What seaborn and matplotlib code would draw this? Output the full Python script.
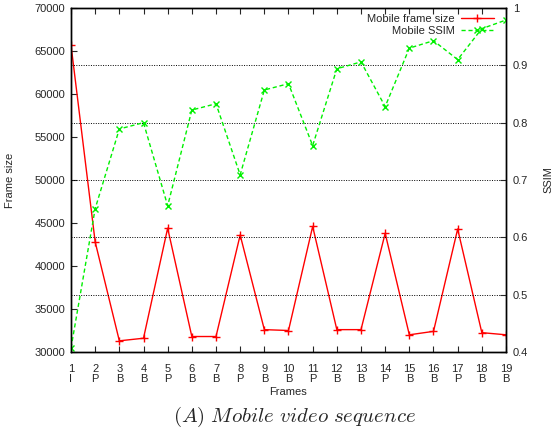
import matplotlib
matplotlib.use("Agg")
import matplotlib.pyplot as plt
import seaborn as sns
import pandas as pd
import numpy as np

frames = list(range(1, 20))
frame_types = ["I", "P", "B", "B", "P", "B", "B", "P", "B", "B",
               "P", "B", "B", "P", "B", "B", "P", "B", "B"]
frame_size = [65700, 42800, 31300, 31600, 44400, 31800, 31800, 43600, 32600, 32500,
              44600, 32600, 32600, 43800, 32000, 32400, 44300, 32250, 32000]
ssim = [0.407, 0.650, 0.789, 0.800, 0.655, 0.822, 0.833, 0.709, 0.857, 0.868,
        0.760, 0.894, 0.906, 0.828, 0.930, 0.943, 0.910, 0.964, 0.979]
left_ticks = [30000, 35000, 40000, 45000, 50000, 55000, 60000, 65000, 70000]
right_ticks = [0.4, 0.5, 0.6, 0.7, 0.8, 0.9, 1.0]
right_tick_labels = ["0.4", "0.5", "0.6", "0.7", "0.8", "0.9", "1"]

sns.set_style("ticks")
plt.rcParams["font.family"] = ["Liberation Sans", "DejaVu Sans"]
plt.rcParams["mathtext.fontset"] = "cm"

df = pd.DataFrame({"frame": frames, "size": frame_size, "ssim": ssim})

fig = plt.figure(figsize=(5.55, 4.34), dpi=100)
ax = fig.add_axes([71 / 555, 1 - 352 / 434, (506 - 71) / 555, (352 - 8) / 434])
ax2 = ax.twinx()

# gridlines at right-axis ticks
for v in right_ticks[1:-1]:
    ax2.axhline(v, color="black", lw=0.7, ls=(0, (1, 1.5)), zorder=0)

sns.lineplot(data=df, x="frame", y="size", ax=ax, color="#ff0000", lw=1,
             marker="+", markersize=6, markeredgewidth=1, markeredgecolor="#ff0000",
             label="Mobile frame size", legend=False)
sns.lineplot(data=df, x="frame", y="ssim", ax=ax2, color="#00f000", lw=1,
             linestyle=(0, (3, 2)), marker="x", markersize=5, markeredgewidth=1,
             markeredgecolor="#00f000", label="Mobile SSIM", legend=False)

ax.set_xlim(1, 19)
ax.set_ylim(30000, 70000)
ax2.set_ylim(0.4, 1.0)
ax.set_xticks(frames)
ax.set_xticklabels([f"{f}\n{t}" for f, t in zip(frames, frame_types)], fontsize=8,
                   linespacing=1.0)
ax.set_yticks(left_ticks)
ax.set_yticklabels([str(v) for v in left_ticks], fontsize=8)
ax2.set_yticks(right_ticks)
ax2.set_yticklabels(right_tick_labels, fontsize=8)

ax.tick_params(axis="both", direction="in", length=4, width=0.8, top=True, pad=4)
ax.tick_params(axis="x", pad=9)
ax2.tick_params(axis="y", direction="in", length=4, width=0.8, pad=5)

for a in (ax, ax2):
    for s in a.spines.values():
        s.set_visible(True)
        s.set_linewidth(1.0)
        s.set_color("black")

ax.set_xlabel("Frames", fontsize=8, labelpad=2)
ax.set_ylabel("Frame size", fontsize=8, labelpad=14)
ax2.set_ylabel("SSIM", fontsize=8, labelpad=11, rotation=90)

h1, l1 = ax.get_legend_handles_labels()
h2, l2 = ax2.get_legend_handles_labels()
leg = ax2.legend(h1 + h2, l1 + l2, loc="upper right", markerfirst=False,
                 frameon=False, fontsize=8, handlelength=3.0, handletextpad=0.5,
                 labelspacing=0.2, borderaxespad=0.1, bbox_to_anchor=(0.985, 1.0))

fig.text(295 / 555, 1 - 417 / 434, r"$(A)\ Mobile\ video\ sequence$", ha="center",
         va="center", fontsize=15)

fig.savefig("out.png", dpi=100)
